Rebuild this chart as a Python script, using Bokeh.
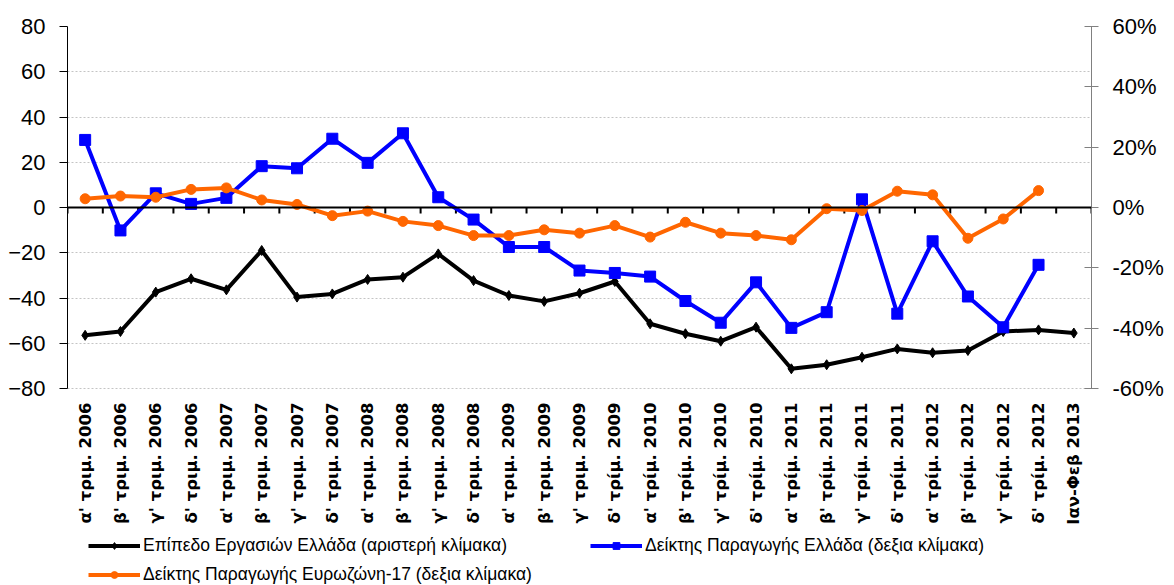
import math
from bokeh.plotting import figure
from bokeh.models import (Range1d, LinearAxis, FixedTicker, PrintfTickFormatter,
                          Legend, LegendItem, Span, Grid)
from bokeh.core.properties import value
from bokeh.embed import file_html
from bokeh.resources import INLINE

categories = [
    "α' τριμ. 2006", "β' τριμ. 2006", "γ' τριμ. 2006", "δ' τριμ. 2006",
    "α' τριμ. 2007", "β' τριμ. 2007", "γ' τριμ. 2007", "δ' τριμ. 2007",
    "α' τριμ. 2008", "β' τριμ. 2008", "γ' τριμ. 2008", "δ' τριμ. 2008",
    "α' τριμ. 2009", "β' τριμ. 2009", "γ' τριμ. 2009", "δ' τρίμ. 2009",
    "α' τρίμ. 2010", "β' τρίμ. 2010", "γ' τρίμ. 2010", "δ' τρίμ. 2010",
    "α' τρίμ. 2011", "β' τρίμ. 2011", "γ' τρίμ. 2011", "δ' τρίμ. 2011",
    "α' τρίμ. 2012", "β' τρίμ. 2012", "γ' τρίμ. 2012", "δ' τρίμ. 2012",
    "Ιαν-Φεβ 2013",
]

# Left axis: business climate Greece
business_greece = [-56.5, -54.8, -37.4, -31.5, -36.4, -19.0, -39.6, -38.2,
                   -31.8, -30.8, -20.5, -32.3, -38.9, -41.5, -37.9, -32.7,
                   -51.4, -55.8, -59.1, -52.9, -71.3, -69.5, -66.2, -62.5,
                   -64.2, -63.2, -54.8, -54.1, -55.5]
# Right axis (%): production index Greece
production_greece = [22.4, -7.6, 4.7, 1.2, 3.2, 13.7, 13.0, 22.8,
                     14.8, 24.6, 3.4, -4.0, -13.1, -13.1, -20.9, -21.7,
                     -22.9, -31.0, -38.2, -24.8, -39.9, -34.7, 2.7, -35.2,
                     -11.2, -29.5, -39.7, -19.0]
# Right axis (%): production index Eurozone-17
production_ez17 = [2.9, 3.8, 3.4, 6.0, 6.5, 2.5, 1.0, -2.7,
                   -1.2, -4.6, -6.0, -9.3, -9.3, -7.4, -8.5, -6.0,
                   -9.8, -4.9, -8.5, -9.3, -10.7, -0.4, -1.0, 5.4,
                   4.2, -10.2, -3.8, 5.6]

left_ticks = [-80, -60, -40, -20, 0, 20, 40, 60, 80]
right_ticks = [-60, -40, -20, 0, 20, 40, 60]

legend_labels = [
    "Επίπεδο Εργασιών Ελλάδα (αριστερή κλίμακα)",
    "Δείκτης Παραγωγής Ελλάδα (δεξια κλίμακα)",
    "Δείκτης Παραγωγής Ευρωζώνη-17 (δεξια κλίμακα)",
]

n = len(categories)
idx = list(range(n))
bounds = [i - 0.5 for i in range(n + 1)]

NUM_FONT = "Liberation Sans"
LAB_FONT = "DejaVu Sans"

FIG_W, FIG_H = 1174, 585
FRAME_LEFT, FRAME_RIGHT_BORDER = 67, 83
FRAME_TOP = 26
PLOT_H = 362                      # pixel height of the -80..80 value band
EXTRA_H = FIG_H - FRAME_TOP - PLOT_H  # band below for labels and legend

l_span = left_ticks[-1] - left_ticks[0]
r_span = right_ticks[-1] - right_ticks[0]
l_start = left_ticks[0] - l_span * EXTRA_H / PLOT_H
r_start = right_ticks[0] - r_span * EXTRA_H / PLOT_H
l_per_px = l_span / PLOT_H

p = figure(width=FIG_W, height=FIG_H, output_backend="svg", toolbar_location=None,
           x_range=Range1d(-0.5, n - 0.5), y_range=Range1d(l_start, left_ticks[-1]),
           x_axis_location=None, min_border_left=FRAME_LEFT,
           min_border_right=FRAME_RIGHT_BORDER, min_border_top=FRAME_TOP,
           min_border_bottom=0)
p.outline_line_color = None
p.background_fill_color = "white"
p.border_fill_color = "white"
p.extra_y_ranges = {"right": Range1d(r_start, right_ticks[-1])}

# grids: only horizontal dotted lines
for g in p.select({"type": Grid}):
    if g.dimension == 0:
        g.visible = False
    else:
        g.ticker = FixedTicker(ticks=left_ticks)
        g.grid_line_color = "#c4c4c4"
        g.grid_line_dash = "2 2"
        g.grid_line_width = 1

# left axis
ya = p.yaxis[0]
ya.ticker = FixedTicker(ticks=left_ticks)
ya.bounds = (left_ticks[0], left_ticks[-1])
ya.major_tick_out = 8
ya.major_tick_in = 0
ya.minor_tick_out = 0
ya.minor_tick_in = 0
ya.axis_line_color = "black"
ya.major_tick_line_color = "black"
ya.major_label_text_font = NUM_FONT
ya.major_label_text_font_size = "22px"
ya.major_label_text_color = "black"
ya.major_label_standoff = 14

# right axis
ra = LinearAxis(y_range_name="right", ticker=FixedTicker(ticks=right_ticks),
                formatter=PrintfTickFormatter(format="%d%%"),
                bounds=(right_ticks[0], right_ticks[-1]))
ra.major_tick_out = 7
ra.major_tick_in = 7
ra.minor_tick_out = 0
ra.minor_tick_in = 0
ra.axis_line_color = "#808080"
ra.major_tick_line_color = "#808080"
ra.major_label_text_font = NUM_FONT
ra.major_label_text_font_size = "22px"
ra.major_label_text_color = "black"
ra.major_label_standoff = 14
p.add_layout(ra, "right")

# category labels (rotated), just under the value band
label_y = left_ticks[0] - 14 * l_per_px
p.text(x=idx, y=[label_y] * n, text=categories, angle=math.pi / 2,
       text_align="right", text_baseline="middle",
       text_font=value(LAB_FONT), text_font_style="bold",
       text_font_size="16.5px", text_color="black")

# zero line with tick marks between categories
p.add_layout(Span(location=0, dimension="width", line_color="black", line_width=2))
tick_len = 6 * l_per_px
p.segment(x0=bounds, y0=[0] * len(bounds), x1=bounds, y1=[-tick_len] * len(bounds),
          line_color="black", line_width=2)

# series
r_black_l = p.line(idx, business_greece, line_color="black", line_width=4)
r_black_m = p.scatter(idx, business_greece, marker="diamond", size=10,
                      fill_color="black", line_color="black")
xb = idx[:len(production_greece)]
r_blue_l = p.line(xb, production_greece, line_color="#0000FF", line_width=4,
                  y_range_name="right")
r_blue_m = p.scatter(xb, production_greece, marker="square", size=11,
                     fill_color="#0000FF", line_color="#0000FF", y_range_name="right")
xo = idx[:len(production_ez17)]
r_or_l = p.line(xo, production_ez17, line_color="#FF6600", line_width=4,
                y_range_name="right")
r_or_m = p.scatter(xo, production_ez17, marker="circle", size=10,
                   fill_color="#FF6600", line_color="#FF6600", y_range_name="right")

# legend: two columns inside the lower band
glyph_w, standoff, spacing = 52, 3, 8
leg = Legend(items=[
    LegendItem(label=legend_labels[0], renderers=[r_black_l, r_black_m]),
    LegendItem(label=legend_labels[1], renderers=[r_blue_l, r_blue_m]),
    LegendItem(label=legend_labels[2], renderers=[r_or_l, r_or_m]),
], orientation="horizontal", location=(88 - FRAME_LEFT, 0))
leg.ncols = 2
leg.margin = 0
leg.padding = 0
leg.spacing = spacing
leg.border_line_color = None
leg.background_fill_alpha = 0
leg.glyph_width = glyph_w
leg.glyph_height = 17
leg.label_height = 17
leg.label_width = 590 - 88 - glyph_w - standoff - spacing
leg.label_standoff = standoff
leg.label_text_font = NUM_FONT
leg.label_text_font_size = "17.5px"
leg.label_text_color = "black"
leg.label_text_baseline = "middle"
p.add_layout(leg)

open("out.html", "w").write(file_html(p, INLINE))
